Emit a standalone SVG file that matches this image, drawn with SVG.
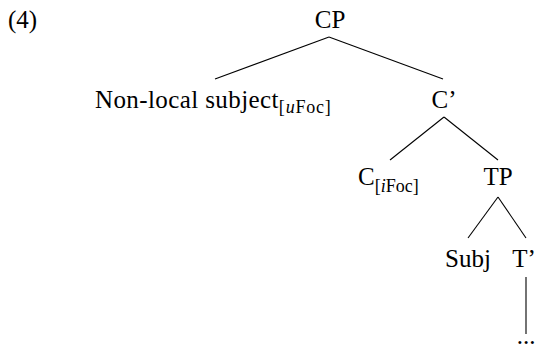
<svg xmlns="http://www.w3.org/2000/svg" width="535" height="349" viewBox="0 0 535 349" font-family="'Liberation Serif', 'DejaVu Serif', serif">
<style>
.n{font-size:25px;text-anchor:middle}
.s{font-size:18px}
.i{font-style:italic}
.e{stroke:#000;stroke-width:1.1;fill:none}
</style>
<rect width="535" height="349" fill="#fff"/>
<text x="8" y="28" font-family="Liberation Serif, serif" font-size="25">(4)</text>
<g id="edges">
<line class="e" x1="329" y1="37" x2="215" y2="79"/>
<line class="e" x1="329" y1="37" x2="443" y2="79"/>
<line class="e" x1="444" y1="117" x2="390" y2="160"/>
<line class="e" x1="444" y1="117" x2="498" y2="160"/>
<line class="e" x1="498" y1="197" x2="468" y2="238"/>
<line class="e" x1="498" y1="197" x2="526" y2="238"/>
<line class="e" x1="526" y1="277" x2="526" y2="334"/>
</g>
<g id="CP"><text class="n" x="330" y="28" font-family="Liberation Serif, serif">CP</text></g>
<g id="NonLocal"><text x="95" y="108" font-family="Liberation Serif, serif" font-size="25" letter-spacing="0.4">Non-local subject<tspan class="s" dy="5" letter-spacing="0.8">[<tspan class="i">u</tspan>Foc]</tspan></text></g>
<g id="Cbar"><text class="n" x="444" y="108" font-family="Liberation Serif, serif">C’</text></g>
<g id="C"><text x="358" y="185" font-family="Liberation Serif, serif" font-size="25">C<tspan class="s" dy="7">[<tspan class="i">i</tspan>Foc]</tspan></text></g>
<g id="TP"><text class="n" x="498" y="185" font-family="Liberation Serif, serif">TP</text></g>
<g id="Subj"><text class="n" x="468" y="267" font-family="Liberation Serif, serif">Subj</text></g>
<g id="Tbar"><text class="n" x="524" y="267" font-family="Liberation Serif, serif">T’</text></g>
<g id="dots"><text class="n" x="526" y="344" font-family="Liberation Serif, serif">...</text></g>
</svg>
